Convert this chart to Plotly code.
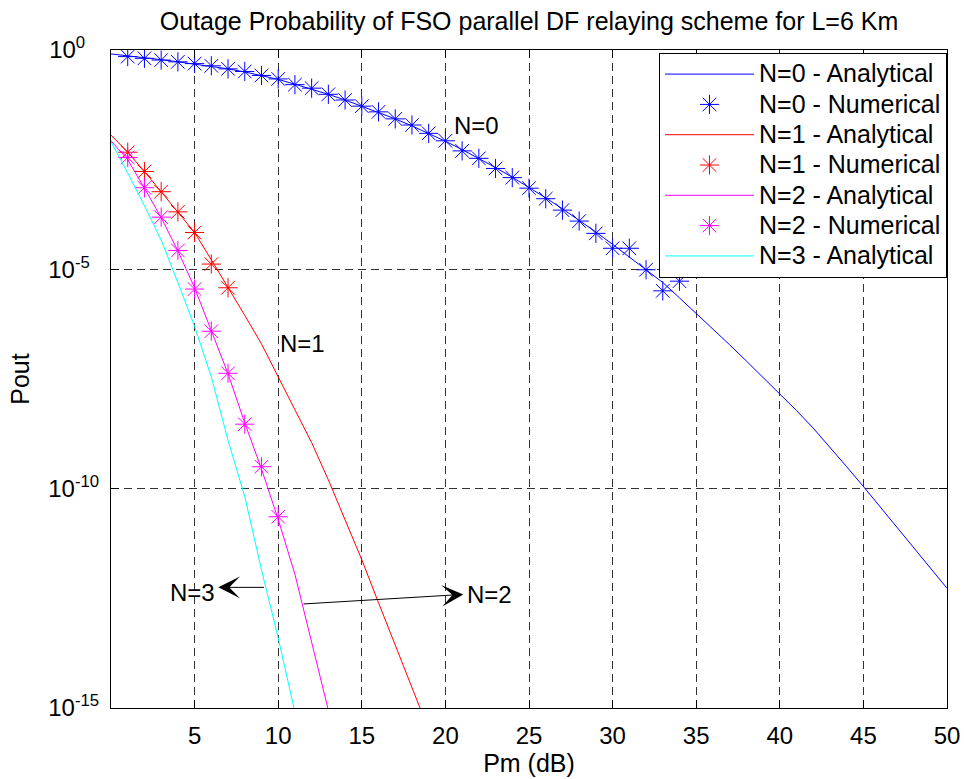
import plotly.graph_objects as go

# ---- data (Pout given as log10 exponents) ----
pm_n0_line = list(range(0, 51))
log_n0_line = [-0.09, -0.13, -0.17, -0.22, -0.27, -0.32, -0.37, -0.43, -0.50, -0.58, -0.67,
               -0.78, -0.89, -1.01, -1.14, -1.28, -1.42, -1.57, -1.73, -1.90, -2.08,
               -2.27, -2.47, -2.68, -2.90, -3.13, -3.37, -3.62, -3.88, -4.15, -4.43,
               -4.72, -5.01, -5.30, -5.65, -6.00, -6.36, -6.72, -7.09, -7.46, -7.83,
               -8.22, -8.62, -9.05, -9.50, -9.95, -10.41, -10.87, -11.33, -11.80, -12.27]
pm_n0_num = list(range(1, 35))
log_n0_num = [-0.15, -0.19, -0.23, -0.27, -0.31, -0.36, -0.43, -0.49, -0.58, -0.66,
              -0.79, -0.87, -1.01, -1.14, -1.28, -1.41, -1.57, -1.71, -1.90, -2.07,
              -2.30, -2.47, -2.70, -2.91, -3.15, -3.39, -3.65, -3.90, -4.18, -4.52,
              -4.52, -5.01, -5.49, -5.27]

pm_n1_line = list(range(0, 20))
log_n1_line = [-1.94, -2.33, -2.77, -3.23, -3.69, -4.16, -4.78, -5.40, -6.05, -6.70,
               -7.45, -8.20, -8.95, -9.80, -10.70, -11.62, -12.60, -13.58, -14.52, -15.50]
pm_n1_num = list(range(1, 8))
log_n1_num = [-2.33, -2.77, -3.23, -3.69, -4.16, -4.88, -5.42]

pm_n2_line = list(range(0, 14))
log_n2_line = [-2.07, -2.50, -3.15, -3.82, -4.58, -5.42, -6.40, -7.38, -8.50, -9.55,
               -10.70, -11.95, -13.50, -15.05]
pm_n2_num = list(range(1, 11))
log_n2_num = [-2.45, -3.14, -3.81, -4.57, -5.45, -6.41, -7.37, -8.53, -9.50, -10.64]

pm_n3_line = list(range(0, 12))
log_n3_line = [-2.09, -2.80, -3.55, -4.33, -5.30, -6.30, -7.45, -8.90, -10.18, -11.85,
               -13.40, -15.10]

series_names = ["N=0 - Analytical", "N=0 - Numerical", "N=1 - Analytical", "N=1 - Numerical",
                "N=2 - Analytical", "N=2 - Numerical", "N=3 - Analytical"]

x_ticks = [5, 10, 15, 20, 25, 30, 35, 40, 45, 50]
y_ticks = [1e0, 1e-5, 1e-10, 1e-15]
y_ticktext = ["10<sup>0\u00a0\u00a0\u00a0</sup>", "10<sup>-5\u00a0\u00a0</sup>",
              "10<sup>-10</sup>", "10<sup>-15</sup>"]

FONT = "Liberation Sans, Arial, Helvetica, sans-serif"


def pw(v):
    return [10 ** e for e in v]


def lg(name):
    # legend text drawn at 25px while legend rows keep a compact spacing
    return '<span style="font-size:25px">' + name + '</span>'


fig = go.Figure()
fig.add_trace(go.Scatter(x=pm_n0_line, y=pw(log_n0_line), mode="lines",
                         line=dict(color="#0000ff", width=1), name=lg(series_names[0])))
fig.add_trace(go.Scatter(x=pm_n0_num, y=pw(log_n0_num), mode="markers",
                         marker=dict(symbol="asterisk-open", size=16, color="#0000ff",
                                     line=dict(color="#0000ff", width=1)),
                         name=lg(series_names[1])))
fig.add_trace(go.Scatter(x=pm_n1_line, y=pw(log_n1_line), mode="lines",
                         line=dict(color="#ff0000", width=1), name=lg(series_names[2])))
fig.add_trace(go.Scatter(x=pm_n1_num, y=pw(log_n1_num), mode="markers",
                         marker=dict(symbol="asterisk-open", size=16, color="#ff0000",
                                     line=dict(color="#ff0000", width=1)),
                         name=lg(series_names[3])))
fig.add_trace(go.Scatter(x=pm_n2_line, y=pw(log_n2_line), mode="lines",
                         line=dict(color="#ff00ff", width=1), name=lg(series_names[4])))
fig.add_trace(go.Scatter(x=pm_n2_num, y=pw(log_n2_num), mode="markers",
                         marker=dict(symbol="asterisk-open", size=16, color="#ff00ff",
                                     line=dict(color="#ff00ff", width=1)),
                         name=lg(series_names[5])))
fig.add_trace(go.Scatter(x=pm_n3_line, y=pw(log_n3_line), mode="lines",
                         line=dict(color="#00ffff", width=1), name=lg(series_names[6])))

ann = []
# text labels
ann.append(dict(x=20.4, y=-1.71, text="N=0", showarrow=False, xanchor="left", yanchor="middle"))
ann.append(dict(x=10.0, y=-6.69, text="N=1", showarrow=False, xanchor="left", yanchor="middle"))
ann.append(dict(x=4.87, y=-12.36, text="N=3", showarrow=False, xanchor="center", yanchor="middle"))
ann.append(dict(x=22.64, y=-12.41, text="N=2", showarrow=False, xanchor="center", yanchor="middle"))
# arrows
ann.append(dict(x=6.42, y=-12.25, ax=9.24, ay=-12.25, axref="x", ayref="y", text="",
                showarrow=True, arrowhead=3, arrowsize=3.6, arrowwidth=1, arrowcolor="black"))
ann.append(dict(x=21.07, y=-12.41, ax=11.43, ay=-12.63, axref="x", ayref="y", text="",
                showarrow=True, arrowhead=3, arrowsize=3.6, arrowwidth=1, arrowcolor="black"))
for a in ann:
    a["xref"] = "x"
    a["yref"] = "y"
    a["font"] = dict(family=FONT, size=24, color="black")

fig.update_layout(
    width=964, height=779,
    margin=dict(l=111, r=17, t=50, b=71, pad=0),
    paper_bgcolor="white", plot_bgcolor="white",
    font=dict(family=FONT, size=24, color="black"),
    title=dict(text="Outage Probability of FSO parallel DF relaying scheme for L=6 Km",
               x=0.5, xref="paper", xanchor="center",
               y=1 - 21 / 779, yref="container", yanchor="middle",
               font=dict(family=FONT, size=25, color="black")),
    showlegend=True,
    legend=dict(x=1, y=0.9955, xanchor="right", yanchor="top", bgcolor="white",
                bordercolor="black", borderwidth=1, font=dict(family=FONT, size=21, color="black"),
                itemwidth=89, tracegroupgap=0),
    annotations=ann,
)
fig.update_xaxes(range=[0, 50], tickvals=x_ticks, ticks="inside", ticklen=8, tickcolor="black",
                 showline=True, linecolor="black", linewidth=1, mirror="ticks",
                 showgrid=True, gridcolor="rgba(0,0,0,0.8)", gridwidth=1, griddash="8px,5px",
                 zeroline=False, tickfont=dict(family=FONT, size=24, color="black"),
                 title=dict(text="Pm (dB)", font=dict(family=FONT, size=25, color="black"), standoff=3),
                 ticklabelstandoff=6, automargin=False)
fig.update_yaxes(type="log", range=[-15, 0], tickvals=y_ticks, ticktext=y_ticktext,
                 ticks="inside", ticklen=8, tickcolor="black",
                 showline=True, linecolor="black", linewidth=1, mirror="ticks",
                 showgrid=True, gridcolor="rgba(0,0,0,0.8)", gridwidth=1, griddash="8px,5px",
                 zeroline=False, tickfont=dict(family=FONT, size=24, color="black"),
                 title=dict(text="Pout", font=dict(family=FONT, size=25, color="black"), standoff=11),
                 ticklabelstandoff=6, automargin=False)

fig.write_html("out.html")
